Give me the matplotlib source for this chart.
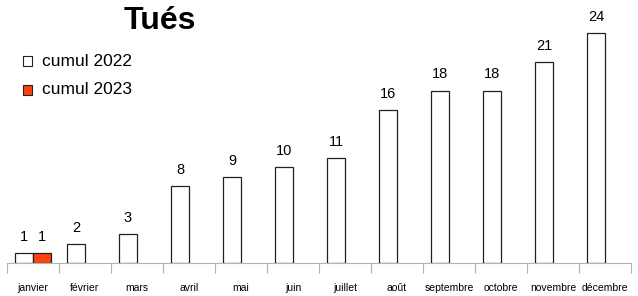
import numpy as np
import matplotlib.pyplot as plt
from matplotlib.patches import Rectangle

plt.rcParams['font.family'] = ['Liberation Sans', 'DejaVu Sans']

months = ['janvier', 'février', 'mars', 'avril', 'mai', 'juin', 'juillet',
          'août', 'septembre', 'octobre', 'novembre', 'décembre']
cumul_2022 = [1, 2, 3, 8, 9, 10, 11, 16, 18, 18, 21, 24]
cumul_2023 = [1]
series = ['cumul 2022', 'cumul 2023']
colors = ['white', '#FF420E']

W, H = 638, 296
fig = plt.figure(figsize=(W / 100, H / 100), dpi=100)
ax = fig.add_axes([7 / W, 33 / H, 624 / W, 263 / H])

x = np.arange(len(months))
w = 18 / 52

b1 = ax.bar(x - w / 2, cumul_2022, w, color=colors[0], edgecolor='#222222', linewidth=0.9)
b2 = ax.bar(x[:len(cumul_2023)] + w / 2, cumul_2023, w, color=colors[1],
            edgecolor='#222222', linewidth=0.9)

for bars in (b1, b2):
    for r in bars:
        ax.annotate(str(int(r.get_height())), (r.get_x() + r.get_width() / 2, r.get_height()),
                    xytext=(0, 6.5), textcoords='offset points', ha='center', va='bottom',
                    fontsize=10.5)

ax.set_xlim(-0.5, len(months) - 0.5)
ax.set_ylim(0, 263 / (230 / 24))
ax.set_yticks([])
ax.set_xticks(x)
ax.set_xticklabels(months, fontsize=7.5)
ax.tick_params(axis='x', which='major', length=0, pad=14.5)
ax.set_xticks(np.arange(len(months) + 1) - 0.5, minor=True)
ax.tick_params(axis='x', which='minor', length=7.5, color='#b3b3b3', width=0.8)
for s in ['top', 'right', 'left']:
    ax.spines[s].set_visible(False)
ax.spines['bottom'].set_color('#b3b3b3')
ax.spines['bottom'].set_linewidth(0.8)

fig.text(160 / W, 1 - 21 / H, 'Tués', ha='center', va='center',
         fontsize=23, fontweight='bold')

# legend drawn by hand
for i, (lab, c) in enumerate(zip(series, colors)):
    yc = 61 + 29 * i
    fig.patches.append(Rectangle((23 / W, 1 - (yc + 5) / H), 9 / W, 10 / H,
                                 facecolor=c, edgecolor='#222222', linewidth=0.8,
                                 transform=fig.transFigure))
    fig.text(42 / W, 1 - yc / H, lab, ha='left', va='center', fontsize=12.5)

fig.savefig('out.png', dpi=100)
